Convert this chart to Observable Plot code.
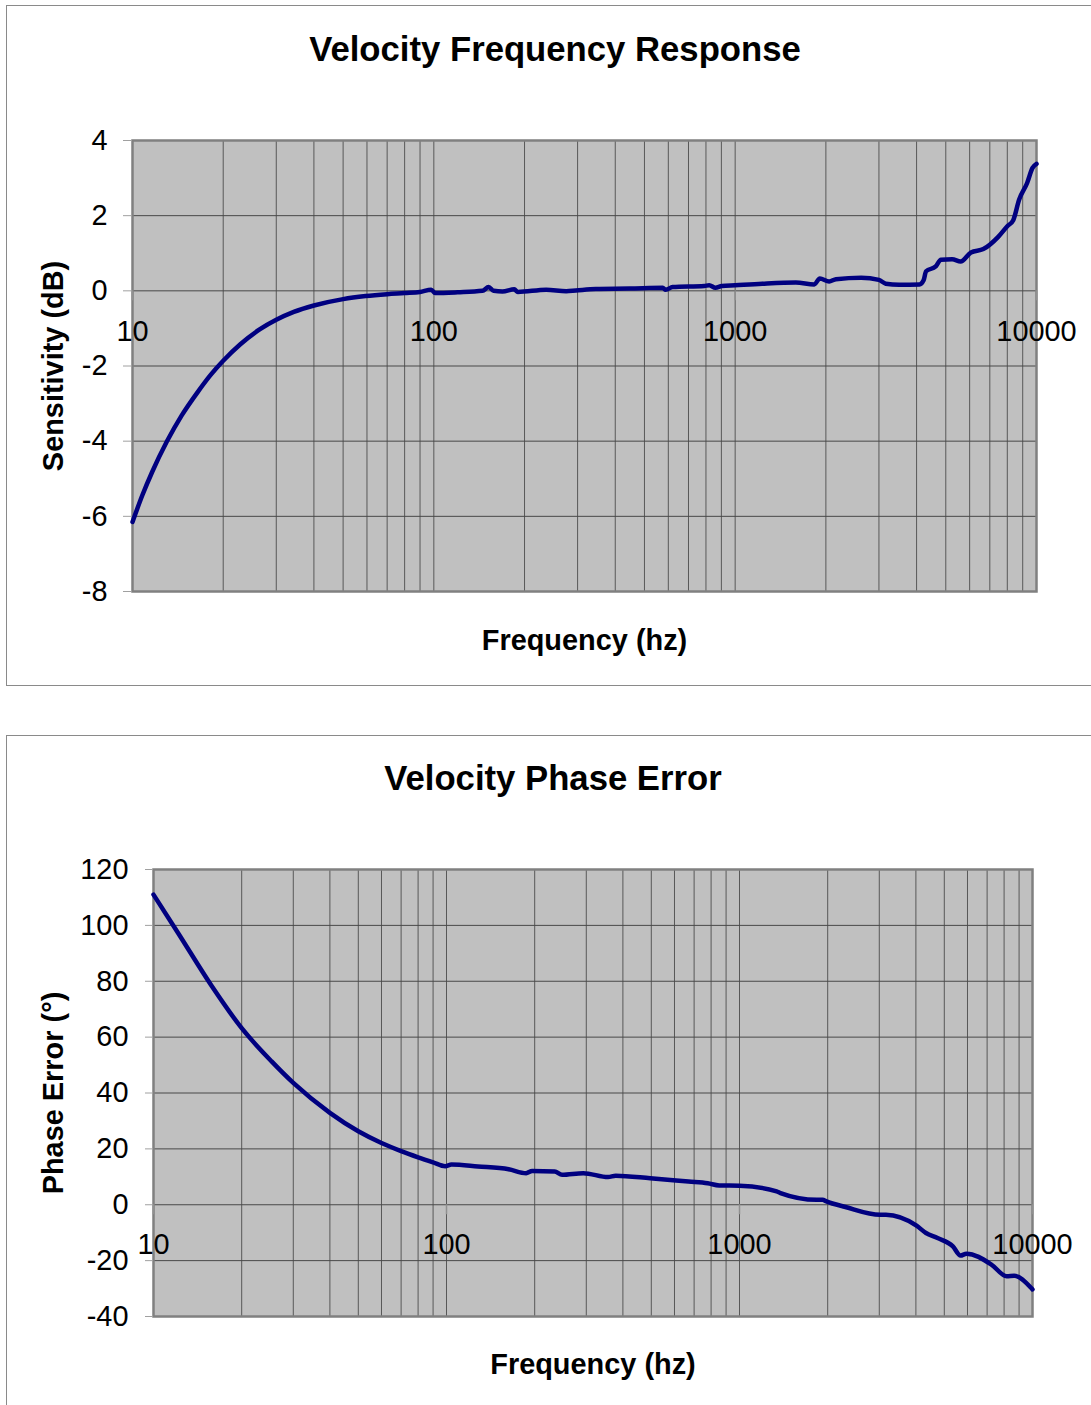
<!DOCTYPE html>
<html><head><meta charset="utf-8">
<script src="https://cdn.jsdelivr.net/npm/d3@7"></script>
<script src="https://cdn.jsdelivr.net/npm/@observablehq/plot@0.6"></script>
<style>
html,body{margin:0;padding:0;background:#fff;overflow:hidden;}
body{width:1091px;height:1405px;position:relative;font-family:"Liberation Sans",Arial,sans-serif;}
.box{position:absolute;border:1px solid #8a8a8a;box-sizing:border-box;}
.title{position:absolute;left:0;text-align:center;font-weight:bold;font-size:34.7px;line-height:40px;color:#000;}
.chart{position:absolute;left:0;}
</style></head><body>
<div class="box" style="left:6px;top:5px;width:1100px;height:681px"></div>
<div class="box" style="left:6px;top:735px;width:1100px;height:700px"></div>
<div class="title" style="top:29px;width:1110px">Velocity Frequency Response</div>
<div class="title" style="top:758px;width:1106px">Velocity Phase Error</div>
<div id="c1" class="chart" style="top:0"></div>
<div id="c2" class="chart" style="top:700px"></div>
<script>
// ---- Data ----
const freqSens = [10, 10.78, 11.62, 13.0, 14.55, 16.5, 18.2, 20, 22.8, 26.5, 30, 34.3, 40, 50, 59.4, 70, 80, 90, 98, 101, 120, 145, 152, 158, 169, 185, 190, 236, 275, 296, 345, 446, 575, 588, 620, 790, 820, 860, 903, 1000, 1230, 1590, 1830, 1910, 2050, 2160, 2620, 3000, 3160, 3500, 4090, 4220, 4300, 4630, 4820, 5250, 5600, 6060, 6660, 7450, 8000, 8370, 8760, 9310, 9700, 10000];
const sensitivity = [-6.15, -5.44, -4.82, -4.01, -3.32, -2.68, -2.23, -1.86, -1.42, -1.02, -0.77, -0.56, -0.39, -0.22, -0.14, -0.09, -0.06, -0.03, 0.03, -0.06, -0.04, 0.0, 0.1, 0.0, -0.02, 0.04, -0.03, 0.03, -0.01, 0.01, 0.05, 0.06, 0.08, 0.03, 0.1, 0.13, 0.15, 0.08, 0.13, 0.15, 0.19, 0.22, 0.17, 0.33, 0.25, 0.31, 0.35, 0.29, 0.19, 0.16, 0.17, 0.28, 0.52, 0.65, 0.83, 0.84, 0.78, 1.02, 1.11, 1.43, 1.72, 1.88, 2.43, 2.87, 3.27, 3.38];

const freqPhase = [10, 12.16, 15.8, 20, 25.3, 30, 40, 50, 60, 70, 80, 90, 99, 104, 128, 163, 187, 196, 234, 248, 293, 356, 378, 496, 670, 779, 853, 1000, 1339, 1380, 1836, 1921, 1980, 2300, 3020, 3160, 4020, 4330, 4740, 5350, 5680, 5950, 7240, 8160, 8660, 9900, 10000];
const phaseError = [111, 97.1, 78.3, 63.2, 51.3, 43.6, 32.9, 26.3, 22.1, 19.2, 17.0, 15.2, 13.8, 14.4, 13.7, 12.7, 11.3, 12.1, 11.9, 10.7, 11.3, 9.9, 10.4, 9.5, 8.3, 7.7, 6.9, 6.8, 4.8, 4.2, 1.8, 1.8, 1.2, -0.8, -3.6, -3.6, -7.5, -10.1, -11.9, -14.9, -18.2, -17.5, -21.4, -25.6, -25.4, -29.8, -30.3];

const xGridTicks = [10, 20, 30, 40, 50, 60, 70, 80, 90, 100, 200, 300, 400, 500, 600, 700, 800, 900, 1000, 2000, 3000, 4000, 5000, 6000, 7000, 8000, 9000, 10000];
const xLabelTicks = [10, 100, 1000, 10000];
const sensTicks = [-8, -6, -4, -2, 0, 2, 4];
const phaseTicks = [-40, -20, 0, 20, 40, 60, 80, 100, 120];

// ---- Chart builder ----
function makeChart(cfg) {
  const rows = cfg.freq.map((f, i) => ({f, v: cfg.vals[i]}));
  return Plot.plot({
    width: 1091,
    height: cfg.height,
    marginLeft: cfg.ml, marginRight: cfg.mr, marginTop: cfg.mt, marginBottom: cfg.mb,
    style: {fontFamily: "Liberation Sans, Arial, sans-serif", background: "transparent", overflow: "visible", color: "#000"},
    x: {type: "log", domain: [10, 10000], axis: null},
    y: {domain: cfg.yDomain, axis: null},
    marks: [
      Plot.frame({fill: "#c0c0c0", stroke: "none"}),
      Plot.gridX(xGridTicks, {stroke: "#585858", strokeOpacity: 1, strokeWidth: 1}),
      Plot.gridY(cfg.yTicks, {stroke: "#484848", strokeOpacity: 1, strokeWidth: 1}),
      Plot.frame({stroke: "#808080", strokeWidth: 2.5}),
      Plot.ruleX(xLabelTicks, {x: d => d, y1: 0, y2: 0, insetBottom: -10, stroke: "#909090", strokeWidth: 1.5}),
      Plot.axisY(cfg.yTicks, {tickSize: cfg.tickSize, tickPadding: cfg.tickPadding, fontSize: 28.9, stroke: "#a0a0a0", fill: "#000", tickFormat: d => String(d), label: null}),
      Plot.text(xLabelTicks, {x: d => d, y: 0, dy: cfg.xLabelDy, text: d => String(d), fontSize: 28.9, fill: "#000"}),
      Plot.text([cfg.yLabel], {frameAnchor: "left", dx: cfg.yTitleDx, rotate: -90, textAnchor: "middle", lineAnchor: "middle", text: d => d, fontSize: 28.9, fontWeight: "bold", fill: "#000"}),
      Plot.text([cfg.xLabel], {frameAnchor: "bottom", dy: cfg.xTitleDy, textAnchor: "middle", lineAnchor: "middle", text: d => d, fontSize: 28.9, fontWeight: "bold", fill: "#000"}),
      Plot.line(rows, {x: "f", y: "v", stroke: "#000080", strokeWidth: 4.5, curve: "monotone-x", strokeLinejoin: "round", strokeLinecap: "round"})
    ]
  });
}

document.getElementById("c1").appendChild(makeChart({
  freq: freqSens, vals: sensitivity, yTicks: sensTicks, yDomain: [-8, 4],
  height: 690, ml: 132, mr: 55, mt: 140, mb: 99,
  tickSize: 9, tickPadding: 16, xLabelDy: 41,
  yLabel: "Sensitivity (dB)", yTitleDx: -79,
  xLabel: "Frequency (hz)", xTitleDy: 49
}));

document.getElementById("c2").appendChild(makeChart({
  freq: freqPhase, vals: phaseError, yTicks: phaseTicks, yDomain: [-40, 120],
  height: 705, ml: 153, mr: 59, mt: 169, mb: 89,
  tickSize: 8, tickPadding: 17, xLabelDy: 40,
  yLabel: "Phase Error (°)", yTitleDx: -100,
  xLabel: "Frequency (hz)", xTitleDy: 48
}));
</script>
</body></html>
